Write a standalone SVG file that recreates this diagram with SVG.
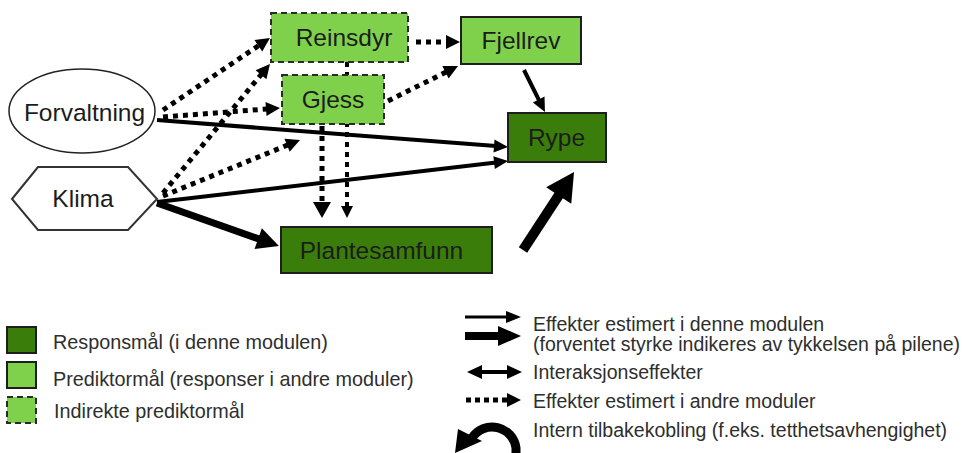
<svg xmlns="http://www.w3.org/2000/svg" width="977" height="453" viewBox="0 0 977 453">
<style>
text{font-family:"Liberation Sans",Arial,sans-serif;fill:#1c1c1c}
.lbl{font-size:24.5px;text-anchor:middle}
.leg{font-size:19.5px;fill:#2e2e2e}
.legl{font-size:19.8px;fill:#2e2e2e}
.dark{fill:#3b7d0b;stroke:#1e1e1e;stroke-width:2}
.light{fill:#7fd14c;stroke:#1e1e1e;stroke-width:2}
.ind{fill:#7fd14c;stroke:#2a2a2a;stroke-width:2;stroke-dasharray:6 4}
.sol{fill:none;stroke:#000;stroke-width:4}
.dot{fill:none;stroke:#000;stroke-width:5;stroke-dasharray:5 5}
.hd{fill:#000}
</style>
<defs>
<marker id="mThin" markerUnits="userSpaceOnUse" orient="auto" overflow="visible" refX="2" refY="0" markerWidth="20" markerHeight="20"><path d="M0,-6.5 L14,0 L0,6.5 z" fill="#000"/></marker>
<marker id="mDot" markerUnits="userSpaceOnUse" orient="auto" overflow="visible" refX="2" refY="0" markerWidth="20" markerHeight="20"><path d="M0,-7 L14,0 L0,7 z" fill="#000"/></marker>
<marker id="mDotS" markerUnits="userSpaceOnUse" orient="auto" overflow="visible" refX="2" refY="0" markerWidth="20" markerHeight="20"><path d="M0,-6 L12,0 L0,6 z" fill="#000"/></marker>
<marker id="mDotB" markerUnits="userSpaceOnUse" orient="auto" overflow="visible" refX="2" refY="0" markerWidth="20" markerHeight="20"><path d="M0,-9 L16,0 L0,9 z" fill="#000"/></marker>
<marker id="mThick" markerUnits="userSpaceOnUse" orient="auto" overflow="visible" refX="2" refY="0" markerWidth="30" markerHeight="30"><path d="M0,-11 L22,0 L0,11 z" fill="#000"/></marker>
<marker id="mHuge" markerUnits="userSpaceOnUse" orient="auto" overflow="visible" refX="2" refY="0" markerWidth="40" markerHeight="40"><path d="M0,-15 L28,0 L0,15 z" fill="#000"/></marker>
</defs>
<rect width="977" height="453" fill="#fff"/>
<g id="connectors">
<path class="dot" d="M163,110 L260,44.7" marker-end="url(#mDot)"/>
<path class="dot" d="M163,117 L268,108.9" marker-end="url(#mDot)"/>
<path class="dot" d="M163,193 L262.3,73.2" marker-end="url(#mDot)"/>
<path class="dot" d="M163,196 L288.9,144.5" marker-end="url(#mDot)"/>
<path class="dot" d="M416,42 L448,42" marker-end="url(#mDot)"/>
<path class="dot" d="M388,101 L447.3,71.4" marker-end="url(#mDot)"/>
<path class="dot" d="M322,126 L322,204" marker-end="url(#mDotB)"/>
<path class="dot" style="stroke-width:4" d="M347,62 L347,208" marker-end="url(#mDotS)"/>
<path class="sol" d="M157,120 L496,146.1" marker-end="url(#mThin)"/>
<path class="sol" d="M157,202 L496.1,162.4" marker-end="url(#mThin)"/>
<path class="sol" style="stroke-width:7" d="M157,203 L260.1,239.4" marker-end="url(#mThick)"/>
<path class="sol" d="M524,70 L539.6,101.3" marker-end="url(#mThin)"/>
<path class="sol" style="stroke-width:10" d="M523,250 L559.8,193.8" marker-end="url(#mHuge)"/>
</g>
<g id="reinsdyr"><rect class="ind" x="271" y="13" width="137" height="49"/><text class="lbl" x="344" y="46">Reinsdyr</text></g>
<g id="gjess"><rect class="ind" x="282" y="75" width="102" height="49"/><text class="lbl" x="333" y="108">Gjess</text></g>
<g id="fjellrev"><rect class="light" x="461" y="17" width="120" height="47"/><text class="lbl" x="521" y="49">Fjellrev</text></g>
<g id="rype"><rect class="dark" x="508" y="113" width="98" height="49"/><text class="lbl" x="556.5" y="146">Rype</text></g>
<g id="plantesamfunn"><rect class="dark" x="281" y="227" width="211" height="46"/><text class="lbl" x="381.5" y="258.5">Plantesamfunn</text></g>
<g id="forvaltning"><ellipse cx="82" cy="111" rx="73" ry="42" fill="#fff" stroke="#222" stroke-width="1.5"/><text class="lbl" x="84.5" y="121">Forvaltning</text></g>
<g id="klima"><polygon points="12,199 38,167 128,167 157,199 128,230 38,230" fill="#fff" stroke="#333" stroke-width="2"/><text class="lbl" x="83" y="207">Klima</text></g>
<g id="legend">
<rect class="dark" x="7" y="327" width="29" height="26"/>
<rect class="light" x="7" y="362" width="29" height="26"/>
<rect class="ind" x="7" y="397" width="29" height="26"/>
<text class="legl" x="53" y="349">Responsmål (i denne modulen)</text>
<text class="legl" x="53" y="386">Prediktormål (responser i andre moduler)</text>
<text class="legl" x="54" y="418">Indirekte prediktormål</text>
<line x1="465" y1="317" x2="508" y2="317" stroke="#000" stroke-width="3"/>
<polygon class="hd" points="506,311 521,317 506,323"/>
<line x1="465" y1="336" x2="500" y2="336" stroke="#000" stroke-width="8"/>
<polygon class="hd" points="498,326 521,336 498,346"/>
<line x1="478" y1="372" x2="510" y2="372" stroke="#000" stroke-width="4"/>
<polygon class="hd" points="482,365 467,372 482,379"/>
<polygon class="hd" points="507,365 522,372 507,379"/>
<line x1="466" y1="400" x2="508" y2="400" stroke="#000" stroke-width="5" stroke-dasharray="5 4"/>
<polygon class="hd" points="507,393 521,400 507,407"/>
<path d="M516,453 L516,448 A24,24 0 0 0 472,438" fill="none" stroke="#000" stroke-width="9"/>
<polygon class="hd" points="458,429 482,441 455,453"/>
<text class="leg" x="533" y="331">Effekter estimert i denne modulen</text>
<text class="leg" x="533" y="351">(forventet styrke indikeres av tykkelsen på pilene)</text>
<text class="leg" x="533" y="379">Interaksjonseffekter</text>
<text class="leg" x="533" y="408">Effekter estimert i andre moduler</text>
<text class="leg" x="533" y="437">Intern tilbakekobling (f.eks. tetthetsavhengighet)</text>
</g>
</svg>
